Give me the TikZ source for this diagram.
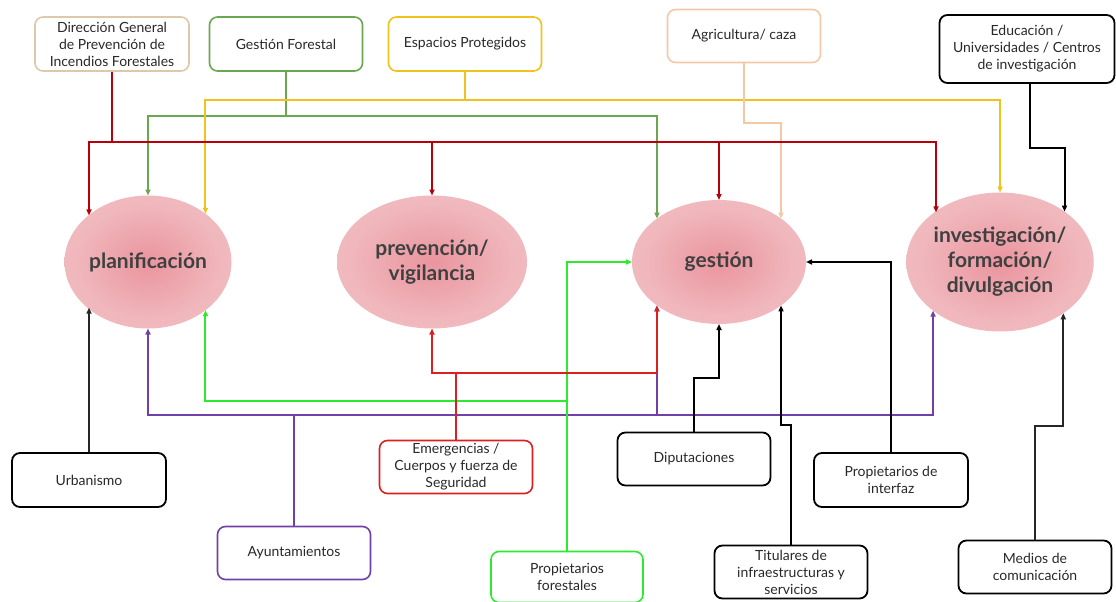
\documentclass[tikz,border=0pt]{standalone}
\usepackage{fontspec}
\setmainfont{Lato}
\usetikzlibrary{arrows.meta,shapes.geometric,calc}
\pgfdeclareradialshading{ellshade}{\pgfpointorigin}{rgb(0bp)=(0.92,0.58,0.62); rgb(22bp)=(0.94,0.72,0.74); rgb(50bp)=(0.95,0.78,0.79); rgb(60bp)=(0.95,0.78,0.79)}
\definecolor{dred}{RGB}{184,0,10}
\definecolor{ered}{RGB}{218,32,32}
\definecolor{tanc}{RGB}{222,200,172}
\definecolor{olive}{RGB}{106,168,79}
\definecolor{gold}{RGB}{241,194,27}
\definecolor{peach}{RGB}{244,200,164}
\definecolor{purp}{RGB}{112,64,168}
\definecolor{lgreen}{RGB}{46,234,46}
\definecolor{txt}{RGB}{40,40,40}
\definecolor{etxt}{RGB}{64,64,64}
\tikzset{
  box/.style={draw, rounded corners=8pt, line width=1.6pt, align=center, inner sep=2pt,
    font=\fontsize{14}{17}\selectfont, text=txt},
  bbox/.style={box, draw=black, line width=1.8pt},
  oval/.style={ellipse, shade, shading=ellshade, inner sep=0pt, outer sep=0pt, align=center,
    font=\fontsize{21}{25}\selectfont\bfseries, text=etxt},
  conn/.style={line width=2pt, -{Triangle[length=6pt,width=5pt]}},
}
\begin{document}
\begin{tikzpicture}[x=1pt,y=-1pt]
\useasboundingbox (0,0) rectangle (1116,602);
% ellipses
\node[oval, minimum width=167pt, minimum height=133pt] (pla) at (148,262) {planificación};
\node[oval, minimum width=190pt, minimum height=133pt] (pre) at (432,262) {prevención/\\vigilancia};
\node[oval, minimum width=174pt, minimum height=124pt] (ges) at (719,262) {gestión};
\node[oval, minimum width=176pt, minimum height=139pt] (inv) at (1000,262) {investigación/\\formación/\\divulgación};
% boxes
\node[box, draw=tanc, minimum width=154pt, minimum height=54pt] (dgp) at (112,44) {Dirección General\\de Prevención de\\Incendios Forestales};
\node[box, draw=olive, minimum width=153pt, minimum height=54pt] (gf) at (286,44) {Gestión Forestal};
\node[box, draw=gold, minimum width=153pt, minimum height=54pt] (ep) at (465,44) {Espacios Protegidos};
\node[box, draw=peach, minimum width=153pt, minimum height=53pt] (agr) at (744,36) {Agricultura/ caza};
\node[bbox, minimum width=175pt, minimum height=68pt] (edu) at (1027,49) {Educación /\\Universidades / Centros\\de investigación};
\node[bbox, minimum width=154pt, minimum height=54pt] (urb) at (89,480) {Urbanismo};
\node[box, draw=purp, minimum width=153pt, minimum height=53pt] (ayu) at (294,553) {Ayuntamientos};
\node[box, draw=ered, minimum width=153pt, minimum height=53pt] (eme) at (456,467) {Emergencias /\\Cuerpos y fuerza de\\Seguridad};
\node[box, draw=lgreen, minimum width=152pt, minimum height=51pt] (pfo) at (567,577) {Propietarios\\forestales};
\node[bbox, minimum width=153pt, minimum height=53pt] (dip) at (694,459) {Diputaciones};
\node[bbox, minimum width=153pt, minimum height=53pt] (tit) at (791,572) {Titulares de\\infraestructuras y\\servicios};
\node[bbox, minimum width=154pt, minimum height=54pt] (pint) at (891,480) {Propietarios de\\interfaz};
\node[bbox, minimum width=153pt, minimum height=53pt] (med) at (1035,567) {Medios de\\comunicación};
% bus coordinates
\coordinate (rL) at (89,142);
\coordinate (rR) at (936,142);
\coordinate (gb) at (0,116);
\coordinate (yb) at (0,100);
\coordinate (ab) at (0,123);
\coordinate (pb) at (0,415);
\coordinate (eb) at (0,373);
\coordinate (fb) at (0,401);
% olive
\draw[conn, olive] (gf.south) -- (gf.south |- gb) -| (pla.north);
\draw[conn, olive] (gf.south |- gb) -| (ges.145);
% yellow
\draw[conn, gold] (ep.south) -- (ep.south |- yb) -| (pla.40);
\draw[conn, gold] (ep.south |- yb) -| (inv.north);
% peach
\draw[conn, peach] (agr.south) -- (agr.south |- ab) -| (ges.35);
% dark red
\draw[conn, dred, line width=2.6pt] (dgp.south) |- (rL) -- (rL |- pla.142.3);
\draw[conn, dred, line width=2.6pt] (dgp.south |- rL) -| (inv.143.3 -| rR);
\draw[conn, dred, line width=2.2pt] (pre.north |- rL) -- (pre.north);
\draw[conn, dred, line width=2.2pt] (ges.north |- rL) -- (ges.north);
% education
\draw[conn, black] ([xshift=3pt]edu.south) -- ++(0,64) -| (inv.38.5);
% urbanismo
\draw[conn, black!85] (urb.north) -- (urb.north |- pla.217.7);
% purple
\draw[conn, purp] (ayu.north) -- (ayu.north |- pb) -| (pla.south);
\draw[conn, purp] (ayu.north |- pb) -| (inv.216.7);
\draw[conn, purp] (ges.215 |- pb) -- (ges.215);
% light green
\draw[conn, lgreen] (pfo.north) |- (ges.west);
\draw[conn, lgreen] (pfo.north |- fb) -| (pla.320);
% emergencias red
\draw[conn, ered] (eme.north) -- (eme.north |- eb) -| (pre.south);
\draw[conn, ered] (eme.north |- eb) -| (ges.215);
% black lower
\draw[conn, black] (dip.north) -- ++(0,-54) -| (ges.south);
\draw[conn, black] (tit.north) -- ++(0,-120) -| (ges.325);
\draw[conn, black] (pint.north) |- (ges.east);
\draw[conn, black!85] (med.north) -- ++(0,-114) -| (inv.321.5);
\end{tikzpicture}
\end{document}
